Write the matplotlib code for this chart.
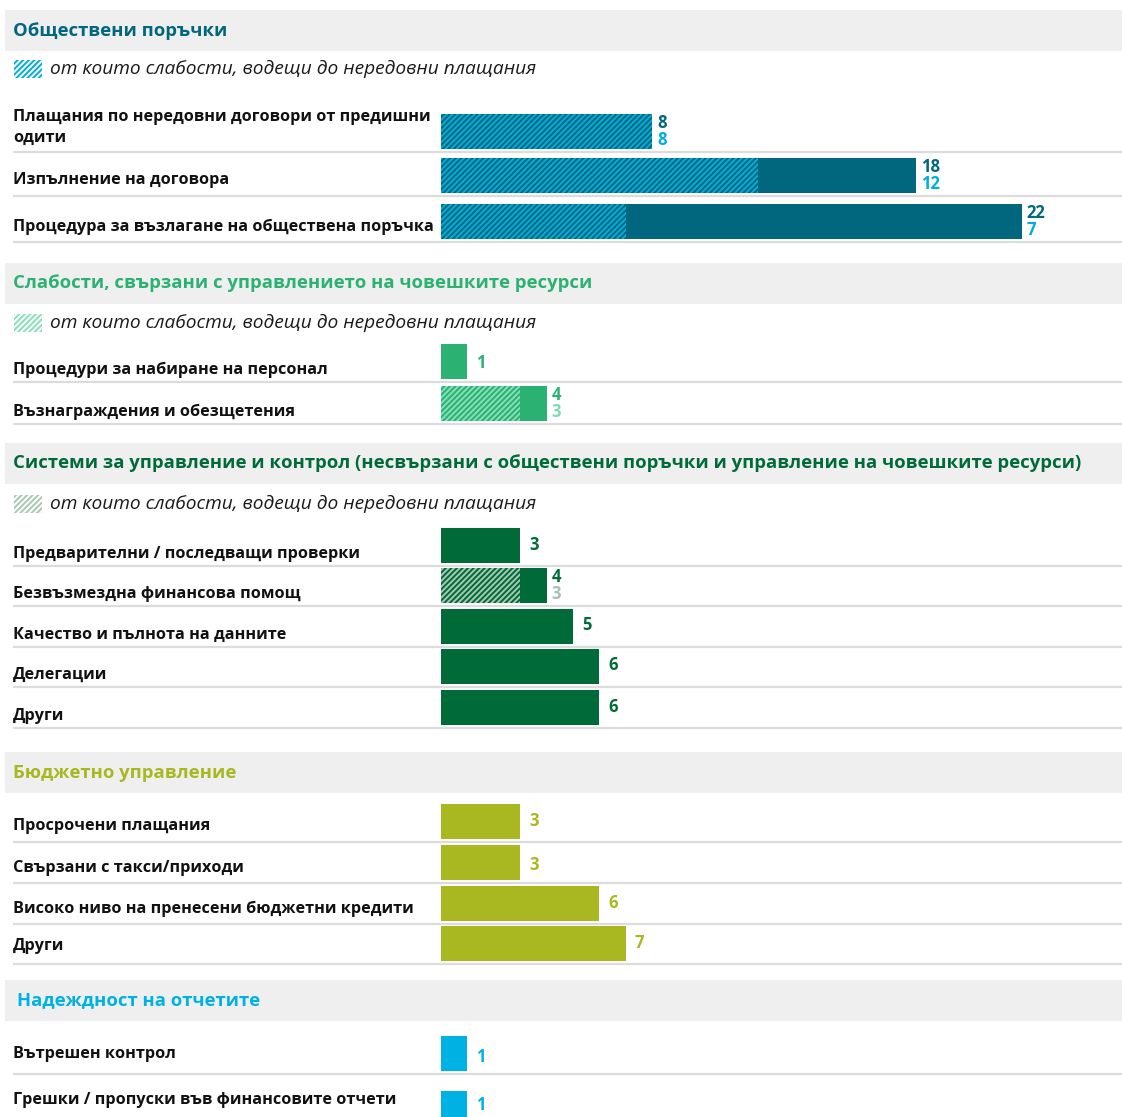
import matplotlib.pyplot as plt
from matplotlib.patches import Rectangle

plt.rcParams["font.family"] = ["Open Sans", "DejaVu Sans"]
plt.rcParams["hatch.linewidth"] = 1.4

# --- data -------------------------------------------------------------------
titles = [
    "Обществени поръчки",
    "Слабости, свързани с управлението на човешките ресурси",
    "Системи за управление и контрол (несвързани с обществени поръчки и управление на човешките ресурси)",
    "Бюджетно управление",
    "Надеждност на отчетите",
]
legend_text = "от които слабости, водещи до нередовни плащания"

procurement_labels = [
    "Плащания по нередовни договори от предишни\nодити",
    "Изпълнение на договора",
    "Процедура за възлагане на обществена поръчка",
]
procurement_total = [8, 18, 22]
procurement_irregular = [8, 12, 7]

hr_labels = ["Процедури за набиране на персонал", "Възнаграждения и обезщетения"]
hr_total = [1, 4]
hr_irregular = [0, 3]

mcs_labels = [
    "Предварителни / последващи проверки",
    "Безвъзмездна финансова помощ",
    "Качество и пълнота на данните",
    "Делегации",
    "Други",
]
mcs_total = [3, 4, 5, 6, 6]
mcs_irregular = [0, 3, 0, 0, 0]

budget_labels = [
    "Просрочени плащания",
    "Свързани с такси/приходи",
    "Високо ниво на пренесени бюджетни кредити",
    "Други",
]
budget_total = [3, 3, 6, 7]

reliability_labels = ["Вътрешен контрол", "Грешки / пропуски във финансовите отчети"]
reliability_total = [1, 1]

# --- layout (pixels) --------------------------------------------------------
W, H = 1122, 1117
X0 = 441          # pixel where the bars start
PX = 26.4         # pixels per unit


def px(x):
    return (x - X0) / PX


sections = [
    dict(labels=procurement_labels, total=procurement_total, irr=procurement_irregular,
         band=10, legend=69, tops=[114, 158, 204], lab_off=[-4, 5, 5], val_off=[0, 0, 0], tx=13,
         main="#00677f", hatch="#00aedb", irr_col="#00aedb", title_col="#00677f"),
    dict(labels=hr_labels, total=hr_total, irr=hr_irregular,
         band=263, legend=323, tops=[344, 386], lab_off=[8, 8], val_off=[1, 0], tx=13,
         main="#2bb273", hatch="#86e0b8", irr_col="#7fdcb0", title_col="#2bb273"),
    dict(labels=mcs_labels, total=mcs_total, irr=mcs_irregular,
         band=443, legend=504, tops=[528, 568, 609, 649, 690], lab_off=[8] * 5,
         val_off=[-1] * 5, tx=13,
         main="#006b38", hatch="#a7c8b4", irr_col="#a9bfb2", title_col="#006b38"),
    dict(labels=budget_labels, total=budget_total, irr=None,
         band=752, legend=None, tops=[804, 845, 886, 926], lab_off=[4, 5, 5, 3],
         val_off=[0, 3, -1, 0], tx=13,
         main="#a9b720", hatch=None, irr_col=None, title_col="#a9b720"),
    dict(labels=reliability_labels, total=reliability_total, irr=None,
         band=980, legend=None, tops=[1036, 1091], lab_off=[0, -9], val_off=[3, -3], tx=17,
         main="#00b2e3", hatch=None, irr_col=None, title_col="#00b2e3"),
]

BAR_H = 35
HATCH = "//////"

fig = plt.figure(figsize=(W / 100, H / 100), dpi=100)
ax = fig.add_axes([0, 0, 1, 1])
ax.set_xlim(px(0), px(W))
ax.set_ylim(H, 0)
ax.axis("off")

for i, s in enumerate(sections):
    # header band
    ax.add_patch(Rectangle((px(5), s["band"]), px(W) - px(5), 41,
                           facecolor="#efefef", edgecolor="none", zorder=0))
    ax.text(px(s["tx"]), s["band"] + 20.5, titles[i], color=s["title_col"],
            fontsize=13.3, fontweight="bold", va="center", ha="left")

    # legend
    if s["legend"] is not None:
        ax.add_patch(Rectangle((px(14), s["legend"] - 9), 28 / PX, 18,
                               facecolor="white", edgecolor=s["hatch"], linewidth=0,
                               hatch=HATCH, zorder=1))
        ax.text(px(50), s["legend"], legend_text, fontsize=13.8, style="italic",
                va="center", ha="left", color="#1a1a1a")

    tops = s["tops"]
    centers = [t + BAR_H / 2 for t in tops]
    ax.barh(centers, s["total"], height=BAR_H, left=0, color=s["main"],
            edgecolor="none", zorder=2)
    if s["irr"] is not None:
        ax.barh(centers, s["irr"], height=BAR_H, left=0, color=s["main"],
                edgecolor=s["hatch"], linewidth=0, hatch=HATCH, zorder=3)

    for j, c in enumerate(centers):
        ax.text(px(13), c + s["lab_off"][j], s["labels"][j], fontsize=11.7,
                fontweight="bold", va="center", ha="left", color="#111111",
                linespacing=1.35)
        # separator line
        ax.plot([px(13), px(W)], [tops[j] + BAR_H + 2.5] * 2, color="#dcdcdc",
                linewidth=1.6, zorder=1, solid_capstyle="butt")
        tot = s["total"][j]
        irr = s["irr"][j] if s["irr"] is not None else 0
        if irr:
            ax.text(tot + 5 / PX, c - 8, str(tot), fontsize=12, fontweight="bold",
                    color=s["main"], va="center", ha="left")
            ax.text(tot + 5 / PX, c + 8.5, str(irr), fontsize=12, fontweight="bold",
                    color=s["irr_col"], va="center", ha="left")
        else:
            ax.text(tot + 9 / PX, c + s["val_off"][j], str(tot), fontsize=12,
                    fontweight="bold", color=s["main"], va="center", ha="left")

fig.savefig("out.png", dpi=100)
